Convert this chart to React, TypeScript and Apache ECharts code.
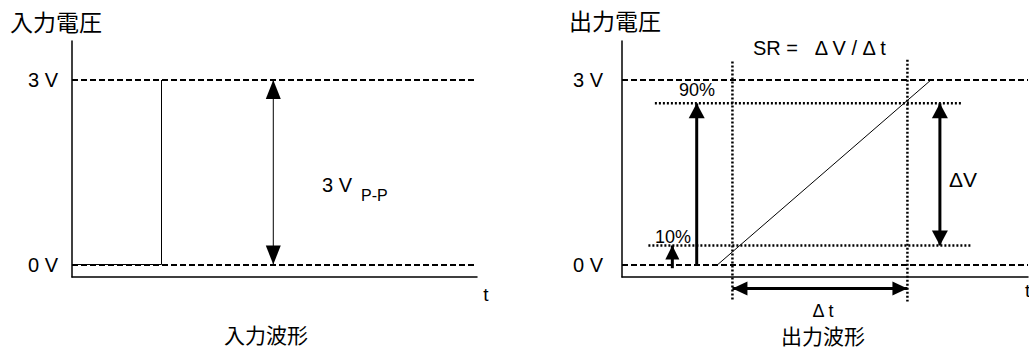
import React, { useEffect, useRef } from 'react';
import * as echarts from 'echarts';

// ---- values (volts / arbitrary time units 0..100) ----
const voltTicks = [0, 3];
const highLevel = 3;
const lowLevel = 0;
const level90 = 2.62;
const level10 = 0.31;

const inputWave: [number, number][] = [[0, 0], [22.1, 0], [22.1, 3]];
const outputWave: [number, number][] = [[23.6, 0], [76.1, 3]];
const inputSwingT = 49.7;
const t10 = 27.2;
const t90 = 70.3;
const riseArrowT = 18.4;
const smallArrowT = 12.4;
const smallArrowFrom = -0.06;
const deltaVT = 78.3;
const deltaTLevel = -0.39;
const line90Span = [8.1, 83.7];
const line10Span = [6.5, 86.1];
const guide10Span = [3.3, -0.59];
const guide90Span = [3.33, -0.6];

const LATIN = '"Liberation Sans", Arial, sans-serif';
const CJK = '"Noto Sans CJK JP", sans-serif';

type Dir = 'up' | 'down' | 'left' | 'right' | null;

function headProps(dir: Dir, size: [number, number]) {
  if (!dir) return { symbol: 'none' };
  const [, h] = size;
  const m: Record<string, [number, number[]]> = {
    up: [0, [0, h / 2]],
    down: [180, [0, -h / 2]],
    left: [90, [h / 2, 0]],
    right: [-90, [-h / 2, 0]],
  };
  return { symbol: 'triangle', symbolSize: size, symbolRotate: m[dir][0], symbolOffset: m[dir][1] };
}

function arrow(idx: number, p0: number[], p1: number[], d0: Dir, d1: Dir, width: number, size: [number, number]) {
  return {
    type: 'line',
    xAxisIndex: idx,
    yAxisIndex: idx,
    clip: false,
    silent: true,
    animation: false,
    showSymbol: true,
    showAllSymbol: true,
    symbol: 'none',
    lineStyle: { color: '#000', width },
    itemStyle: { color: '#000', borderWidth: 0 },
    z: 5,
    data: [
      { value: p0, ...headProps(d0, size) },
      { value: p1, ...headProps(d1, size) },
    ],
  };
}

function plain(idx: number, pts: number[][], width: number, type: any, z = 3) {
  return {
    type: 'line',
    xAxisIndex: idx,
    yAxisIndex: idx,
    clip: false,
    silent: true,
    animation: false,
    symbol: 'none',
    showSymbol: false,
    lineStyle: { color: '#000', width, type, cap: 'butt' },
    z,
    data: pts,
  };
}

function refLines(idx: number) {
  return {
    type: 'line',
    xAxisIndex: idx,
    yAxisIndex: idx,
    silent: true,
    symbol: 'none',
    data: [],
    z: 2,
    markLine: {
      silent: true,
      symbol: 'none',
      animation: false,
      label: { show: false },
      lineStyle: { color: '#000', width: 2, type: [6, 3] },
      emphasis: { disabled: true },
      data: [{ yAxis: highLevel }, { yAxis: lowLevel }],
    },
  };
}

function txt(text: string, x: number, y: number, size: number, align = 'center', family = LATIN) {
  return {
    type: 'text',
    x,
    y,
    silent: true,
    style: {
      text,
      fill: '#000',
      font: `${size}px ${family}`,
      textAlign: align,
      textVerticalAlign: 'middle',
      align,
      verticalAlign: 'middle',
    },
  };
}

const yAxisBase = (margin: number) => ({
  type: 'value',
  min: -0.203,
  max: 3.634,
  axisLine: { show: true, onZero: false, lineStyle: { color: '#000', width: 1.5 } },
  axisTick: { show: false },
  splitLine: { show: false },
  axisLabel: {
    show: true,
    customValues: voltTicks,
    formatter: (v: number) => `${v} V`,
    color: '#000',
    fontSize: 20,
    fontFamily: LATIN,
    margin,
  },
});

const xAxisBase = () => ({
  type: 'value',
  min: 0,
  max: 100,
  axisLine: { show: true, onZero: false, lineStyle: { color: '#000', width: 1.5 } },
  axisTick: { show: false },
  splitLine: { show: false },
  axisLabel: { show: false },
});

export default function App() {
  const ref = useRef<HTMLDivElement>(null);
  useEffect(() => {
    document.body.style.margin = '0';
    const chart = echarts.init(ref.current!, null, { renderer: 'svg' });
    const arrowSmall: [number, number] = [14, 14];
    const arrowBig: [number, number] = [16, 15];
    const option: any = {
      animation: false,
      grid: [
        { left: 72, top: 41, width: 405, height: 236, outerBoundsMode: 'none', containLabel: false },
        { left: 622, top: 41, width: 406, height: 236, outerBoundsMode: 'none', containLabel: false },
      ],
      xAxis: [{ ...xAxisBase(), gridIndex: 0 }, { ...xAxisBase(), gridIndex: 1 }],
      yAxis: [{ ...yAxisBase(14), gridIndex: 0 }, { ...yAxisBase(19), gridIndex: 1 }],
      series: [
        refLines(0),
        refLines(1),
        // input waveform
        plain(0, inputWave, 1, 'solid', 4),
        arrow(0, [inputSwingT, lowLevel], [inputSwingT, highLevel], 'down', 'up', 1, [15, 19]),
        // output waveform
        plain(1, outputWave, 1, 'solid', 4),
        // 90% / 10% dotted lines
        plain(1, [[line90Span[0], level90], [line90Span[1], level90]], 2.5, [2, 2]),
        plain(1, [[line10Span[0], level10], [line10Span[1], level10]], 2.5, [2, 2]),
        // vertical dotted guides
        plain(1, [[t10, guide10Span[0]], [t10, guide10Span[1]]], 2.5, [2, 2]),
        plain(1, [[t90, guide90Span[0]], [t90, guide90Span[1]]], 2.5, [2, 2]),
        // arrows
        arrow(1, [riseArrowT, lowLevel], [riseArrowT, level90], null, 'up', 3, arrowBig),
        arrow(1, [smallArrowT, smallArrowFrom], [smallArrowT, level10], null, 'up', 3, arrowSmall),
        arrow(1, [deltaVT, level10], [deltaVT, level90], 'down', 'up', 3, arrowBig),
        arrow(1, [t10, deltaTLevel], [t90, deltaTLevel], 'left', 'right', 3, [14, 15]),
      ],
      graphic: [
        txt('入力電圧', 10, 21, 23, 'left', CJK),
        txt('出力電圧', 569, 20, 23, 'left', CJK),
        txt('入力波形', 266, 334, 21, 'center', CJK),
        txt('出力波形', 823, 335, 21, 'center', CJK),
        txt('3 V', 322, 185, 20, 'left'),
        txt('P-P', 361, 195, 16, 'left'),
        txt('t', 486, 294, 19, 'center'),
        txt('t', 1025, 290, 19, 'left'),
        txt('SR =   Δ V / Δ t', 753, 48, 20, 'left'),
        txt('90%', 697, 90, 18, 'center'),
        txt('10%', 673, 237, 18, 'center'),
        txt('ΔV', 963, 179, 21, 'center'),
        txt('Δ t', 823, 311, 18, 'center'),
      ],
    };
    chart.setOption(option);
    return () => chart.dispose();
  }, []);
  return <div ref={ref} style={{ width: 1029, height: 349 }} />;
}
